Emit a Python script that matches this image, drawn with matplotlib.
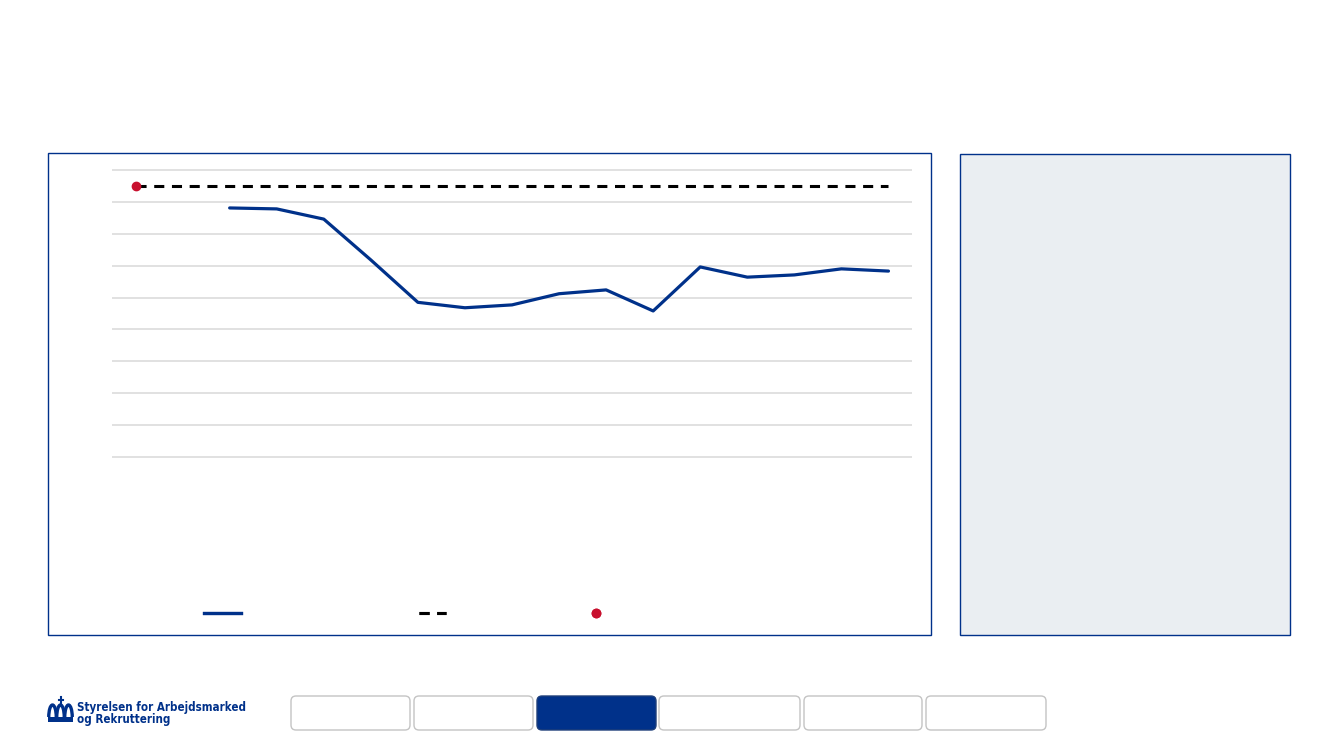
import numpy as np
import matplotlib
matplotlib.use('Agg')
import matplotlib.pyplot as plt
from matplotlib import font_manager
from matplotlib.patches import Rectangle, FancyBboxPatch, Arc
from matplotlib.lines import Line2D

# data (17 periods, no labels shown)
periods = list(range(17))
actual = [np.nan, np.nan, 78.1, 77.8, 74.6, 61.8, 48.5, 46.8, 47.7, 51.2,
          52.4, 45.8, 59.6, 56.4, 57.1, 59.0, 58.3]
target = [85.0] * 17
start_value = [85.0] + [np.nan] * 16
y_ticks = [0, 10, 20, 30, 40, 50, 60, 70, 80, 90]
nav_buttons = [(291, 410), (414, 533), (537, 656), (659, 800), (804, 922), (926, 1046)]
active_button = 2
logo_lines = ['Styrelsen for Arbejdsmarked', 'og Rekruttering']

BLUE = '#00318A'
RED = '#C8102E'
GRID = '#D9D9D9'
PANEL = '#EAEEF2'

W, H = 1333, 750
fig = plt.figure(figsize=(W / 100, H / 100), dpi=100)

# background layer in pixel units
bg = fig.add_axes([0, 0, 1, 1])
bg.set_xlim(0, W)
bg.set_ylim(H, 0)
bg.axis('off')

# chart frame and side panel
bg.add_patch(Rectangle((47.5, 152.5), 883.5, 482.5, fill=False, ec=BLUE, lw=1.0))
bg.add_patch(Rectangle((959.5, 153.5), 330.5, 481.5, fc=PANEL, ec=BLUE, lw=1.0))

# navigation buttons
for i, (x0, x1) in enumerate(nav_buttons):
    on = i == active_button
    bg.add_patch(FancyBboxPatch((x0, 696), x1 - x0, 34,
                                boxstyle='round,pad=0,rounding_size=5',
                                fc=BLUE if on else 'white',
                                ec='#1F3F7A' if on else '#C4C4C4', lw=1.0))

# logo: simple crown + name
bg.add_patch(Rectangle((48, 717), 25, 5, fc=BLUE, ec='none'))
for cx in (52.5, 60.5, 68.5):
    bg.add_patch(Arc((cx, 717), 7.5, 24, theta1=180, theta2=360, ec=BLUE, lw=2.4))
bg.plot([60.5, 60.5], [697, 704], color=BLUE, lw=1.5)
bg.plot([58.5, 62.5], [699.5, 699.5], color=BLUE, lw=1.5)

fp = font_manager.FontProperties(family='DejaVu Sans', weight='bold', stretch='condensed')
condensed = 'Condensed' in font_manager.findfont(fp, fallback_to_default=True)
logo_size = 8.3 if condensed else 6.7
for j, line in enumerate(logo_lines):
    bg.text(77, 707 + j * 12, line, color=BLUE, fontsize=logo_size, fontweight='bold',
            family='DejaVu Sans', fontstretch='condensed', va='center', ha='left')

# line chart
pad = 1.0  # keeps the zero gridline from being clipped
upp = 287 / 90  # pixels per unit
ax = fig.add_axes([112 / W, 1 - (457 + pad * upp) / H, 800 / W, (287 + 2 * pad * upp) / H])
ax.set_facecolor('none')
ax.plot(periods, actual, color=BLUE, lw=2.3, solid_capstyle='round', zorder=3)
ax.plot(periods, target, color='black', lw=2.2, linestyle=(0, (3.3, 2.5)), zorder=3)
ax.plot(periods, start_value, 'o', color=RED, ms=6, zorder=4)

ax.set_xlim(-0.5, 16.5)
ax.set_ylim(-pad, 90 + pad)
ax.set_yticks(y_ticks)
ax.grid(axis='y', color=GRID, lw=1.1)
ax.set_axisbelow(True)
ax.tick_params(left=False, bottom=False, labelleft=False, labelbottom=False)
ax.set_xticks([])
for s in ax.spines.values():
    s.set_visible(False)

# legend keys (labels are not shown in the reference)
keys = [
    (Line2D([], [], color=BLUE, lw=2.3), 204, 2.66),
    (Line2D([], [], color='black', lw=2.2, linestyle=(0, (3.3, 2.5))), 419, 1.94),
    (Line2D([], [], marker='o', color=RED, ms=6, lw=0), 589, 1.0),
]
for handle, x_px, hl in keys:
    leg = fig.legend([handle], [''], loc='center left', frameon=False,
                     bbox_to_anchor=(x_px / W, 1 - 614 / H), bbox_transform=fig.transFigure,
                     borderpad=0, borderaxespad=0, handlelength=hl, handletextpad=0)
    fig.add_artist(leg)

plt.savefig('out.png', dpi=100)
